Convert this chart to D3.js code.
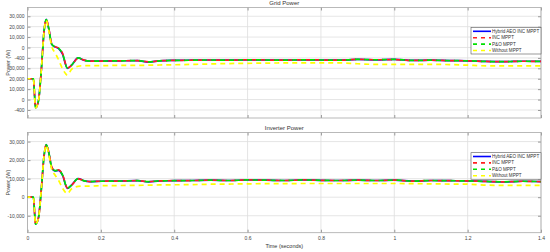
<!DOCTYPE html>
<html>
<head>
<meta charset="utf-8">
<script src="https://cdn.jsdelivr.net/npm/d3@7"></script>
<style>
  body { margin: 0; background: #fff; }
  svg { display: block; font-family: "Liberation Sans", Arial, sans-serif; }
</style>
</head>
<body>
<svg width="550" height="252"></svg>
<script>
// time axis (seconds)
const time = [0, 0.016, 0.022, 0.03, 0.038, 0.045, 0.051, 0.058, 0.066, 0.075, 0.085, 0.095, 0.109, 0.12, 0.138, 0.155, 0.17, 0.2, 0.25, 0.3, 0.33, 0.36, 0.4, 0.45, 0.5, 0.55, 0.6, 0.65, 0.7, 0.75, 0.8, 0.85, 0.9, 0.95, 1.0, 1.05, 1.1, 1.15, 1.2, 1.25, 1.3, 1.35, 1.4];

const seriesNames = ["Hybrid AEO INC MPPT", "INC MPPT", "P&O MPPT", "Without MPPT"];
const seriesColors = ["#0000ff", "#ff2020", "#00e000", "#ffff00"];

// grid power
const gridHybrid = [0, 0, -13900, -10500, 5000, 22500, 28500, 24000, 16500, 15300, 14500, 12000, 5000, 6500, 10000, 8800, 8500, 8500, 8600, 8700, 8000, 8600, 8800, 8900, 9000, 8900, 9100, 9000, 8900, 9100, 9000, 8900, 9300, 9100, 9300, 8800, 8900, 8700, 8600, 8300, 8200, 8400, 8300];
const gridInc = [0, 0, -13900, -10500, 5000, 22500, 28400, 24200, 16800, 15400, 14700, 12400, 5200, 6400, 9900, 8900, 8500, 8500, 8600, 8700, 8100, 8600, 8800, 8900, 9000, 8900, 9100, 9000, 8900, 9100, 9000, 8900, 9300, 9100, 9200, 8800, 8900, 8700, 8600, 8300, 8200, 8400, 8300];
const gridPo = [0, 0, -13900, -10500, 5000, 22500, 28400, 24000, 16600, 15300, 14600, 12200, 5100, 6500, 10000, 8800, 8500, 8500, 8600, 8700, 8100, 8600, 8800, 8900, 9000, 8900, 9100, 9000, 8900, 9100, 9000, 8900, 9300, 9100, 9300, 8800, 8900, 8700, 8600, 8300, 8200, 8400, 8300];
const gridWithout = [0, 0, -13900, -10500, 5000, 22500, 28000, 23000, 15500, 12500, 9000, 5000, 1750, 4500, 6000, 6300, 6300, 6300, 6400, 6400, 6500, 6600, 6700, 6900, 7100, 7300, 7400, 7500, 7600, 7650, 7650, 7600, 7200, 6900, 6900, 6900, 6900, 6800, 6500, 6200, 6200, 6200, 6200];
const gridTickPos = [30000, 25000, 20000, 15000, 10000, 5000, 0, -5000, -10000, -15000];
const gridTickLabels = ["30,000", "20,000", "10,000", "0", "-400", "30,000", "20,000", "10,000", "0", "-400"];

// inverter power
const invHybrid = [0, 0, -14500, -11000, 5000, 22000, 28400, 24000, 16000, 14200, 14500, 12000, 4800, 6500, 10000, 8800, 8400, 8600, 8700, 8900, 8300, 8800, 8900, 9000, 9200, 9000, 9300, 9200, 9000, 9300, 9100, 9000, 9200, 9000, 9200, 8700, 9000, 8900, 8800, 8500, 8300, 8600, 8400];
const invInc = [0, 0, -14500, -11000, 5000, 22200, 28300, 24300, 16400, 14400, 14700, 12400, 5000, 6400, 9900, 8900, 8400, 8600, 8700, 8900, 8400, 8800, 8900, 9000, 9200, 9000, 9300, 9200, 9000, 9300, 9100, 9000, 9200, 9000, 9200, 8700, 9000, 8900, 8800, 8500, 8300, 8600, 8400];
const invPo = [0, 0, -14500, -11000, 5000, 22100, 28300, 24100, 16200, 14300, 14600, 12200, 4900, 6500, 10000, 8800, 8400, 8600, 8700, 8900, 8400, 8800, 8900, 9000, 9200, 9000, 9300, 9200, 9000, 9300, 9100, 9000, 9200, 9000, 9200, 8700, 9000, 8900, 8800, 8500, 8300, 8600, 8400];
const invWithout = [0, 0, -14500, -11000, 5000, 22000, 28000, 23000, 15000, 12000, 9000, 5000, 2000, 4500, 5800, 6000, 6000, 6200, 6300, 6400, 6500, 6600, 6700, 6800, 7000, 7100, 7200, 7300, 7300, 7400, 7400, 7400, 7400, 7400, 7400, 7300, 7200, 7100, 7000, 6500, 6400, 6400, 6400];
const invTickPos = [30000, 20000, 10000, 0, -10000];
const invTickLabels = ["30,000", "20,000", "10,000", "0", "-10,000"];

const xTicks = [0, 0.2, 0.4, 0.6, 0.8, 1, 1.2, 1.4];

const svg = d3.select("svg");
const left = 27.5, right = 541;

const x = d3.scaleLinear().domain([0, 1.4]).range([left, right]);

function drawPanel(opts) {
    const y = d3.scaleLinear().domain(opts.domain).range([opts.bottom, opts.top]);
    const g = svg.append("g");

    // title
    g.append("text")
        .attr("x", (left + right) / 2)
        .attr("y", opts.top - 3)
        .attr("text-anchor", "middle")
        .attr("font-size", 6)
        .attr("fill", "#333")
        .text(opts.title);

    // grid lines
    g.append("g").selectAll("line").data(xTicks).join("line")
        .attr("x1", d => x(d)).attr("x2", d => x(d))
        .attr("y1", opts.top).attr("y2", opts.bottom)
        .attr("stroke", "#dedede").attr("stroke-width", 0.8);
    g.append("g").selectAll("line").data(opts.tickPos).join("line")
        .attr("x1", left).attr("x2", right)
        .attr("y1", d => y(d)).attr("y2", d => y(d))
        .attr("stroke", "#dedede").attr("stroke-width", 0.8);

    // axes
    const yAxis = g.append("g")
        .attr("transform", "translate(" + left + ",0)")
        .call(d3.axisLeft(y).tickValues(opts.tickPos).tickFormat((d, i) => opts.tickLabels[i]).tickSize(-3).tickPadding(3));
    yAxis.select(".domain").remove();
    yAxis.selectAll("text").attr("font-size", 5).attr("fill", "#444");
    yAxis.selectAll("line").attr("stroke", "#999");

    const yAxisR = g.append("g")
        .attr("transform", "translate(" + right + ",0)")
        .call(d3.axisRight(y).tickValues(opts.tickPos).tickFormat("").tickSize(-3));
    yAxisR.select(".domain").remove();
    yAxisR.selectAll("line").attr("stroke", "#999");

    const xAxis = g.append("g")
        .attr("transform", "translate(0," + opts.bottom + ")")
        .call(d3.axisBottom(x).tickValues(xTicks).tickFormat(opts.xLabels ? d3.format("") : "").tickSize(-3).tickPadding(4));
    xAxis.select(".domain").remove();
    xAxis.selectAll("text").attr("font-size", 5).attr("fill", "#444");
    xAxis.selectAll("line").attr("stroke", "#999");

    const xAxisT = g.append("g")
        .attr("transform", "translate(0," + opts.top + ")")
        .call(d3.axisTop(x).tickValues(xTicks).tickFormat("").tickSize(-3));
    xAxisT.select(".domain").remove();
    xAxisT.selectAll("line").attr("stroke", "#999");

    // frame
    g.append("rect")
        .attr("x", left).attr("y", opts.top)
        .attr("width", right - left).attr("height", opts.bottom - opts.top)
        .attr("fill", "none").attr("stroke", "#a8a8a8").attr("stroke-width", 0.8);

    // y label
    g.append("text")
        .attr("transform", "translate(8," + ((opts.top + opts.bottom) / 2) + ") rotate(-90)")
        .attr("text-anchor", "middle")
        .attr("dy", "0.35em")
        .attr("font-size", 5.5)
        .attr("fill", "#444")
        .text("Power (W)");

    // lines
    const clipId = "clip" + opts.id;
    svg.append("clipPath").attr("id", clipId).append("rect")
        .attr("x", left).attr("y", opts.top).attr("width", right - left).attr("height", opts.bottom - opts.top);

    const line = d3.line()
        .x((d, i) => x(time[i]))
        .y(d => y(d))
        .curve(d3.curveMonotoneX);

    const dashes = [null, "5,4", "5,4", "5,4"];
    const offsets = [0, 0, 4.5, 2];
    const lg = g.append("g").attr("clip-path", "url(#" + clipId + ")");
    opts.series.forEach((s, k) => {
        lg.append("path")
            .datum(s)
            .attr("fill", "none")
            .attr("stroke", seriesColors[k])
            .attr("stroke-width", 1.7)
            .attr("stroke-dasharray", dashes[k])
            .attr("stroke-dashoffset", offsets[k])
            .attr("d", line);
    });

    // legend
    const lx = opts.legendX, ly = opts.legendY;
    const leg = g.append("g").attr("transform", "translate(" + lx + "," + ly + ")");
    leg.append("rect")
        .attr("width", 70).attr("height", 26.5)
        .attr("fill", "#fff").attr("stroke", "#555").attr("stroke-width", 0.6);
    seriesNames.forEach((name, k) => {
        const yy = 3.8 + k * 6.4;
        leg.append("line")
            .attr("x1", 2).attr("x2", 20)
            .attr("y1", yy).attr("y2", yy)
            .attr("stroke", seriesColors[k])
            .attr("stroke-width", 1.6)
            .attr("stroke-dasharray", dashes[k] ? "4,4" : null);
        leg.append("text")
            .attr("x", 21).attr("y", yy)
            .attr("dy", "0.35em")
            .attr("font-size", 4.6)
            .attr("fill", "#333")
            .text(name);
    });
}

drawPanel({
    id: "grid",
    title: "Grid Power",
    top: 7.5, bottom: 118,
    domain: [-18850, 34200],
    tickPos: gridTickPos,
    tickLabels: gridTickLabels,
    series: [gridHybrid, gridInc, gridPo, gridWithout],
    xLabels: false,
    legendX: 471, legendY: 27.5
});

drawPanel({
    id: "inv",
    title: "Inverter Power",
    top: 132.5, bottom: 232.7,
    domain: [-19150, 34900],
    tickPos: invTickPos,
    tickLabels: invTickLabels,
    series: [invHybrid, invInc, invPo, invWithout],
    xLabels: true,
    legendX: 471, legendY: 152.7
});

svg.append("text")
    .attr("x", (left + right) / 2)
    .attr("y", 248)
    .attr("text-anchor", "middle")
    .attr("font-size", 5.5)
    .attr("fill", "#333")
    .text("Time (seconds)");
</script>
</body>
</html>
